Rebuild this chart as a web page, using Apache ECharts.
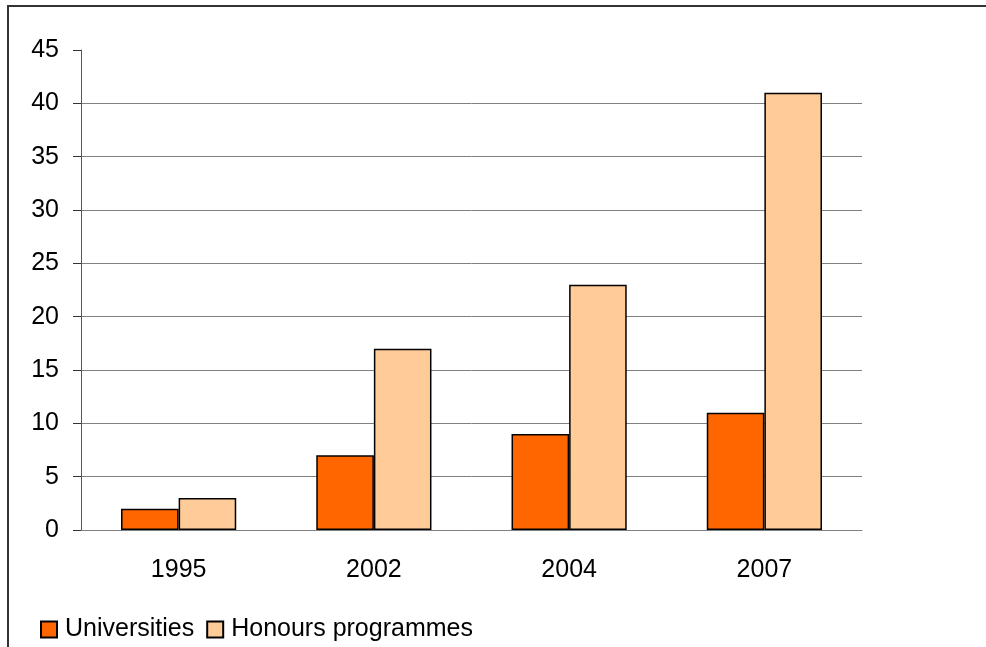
<!DOCTYPE html>
<html>
<head>
<meta charset="utf-8">
<script src="https://cdn.jsdelivr.net/npm/echarts@6/dist/echarts.min.js"></script>
<style>
  html, body { margin: 0; padding: 0; background: #fff; }
  #main { width: 986px; height: 647px; }
</style>
</head>
<body>
<div id="main"></div>
<script>
var years = ['1995', '2002', '2004', '2007'];
var universities = [2, 7, 9, 11];
var honours = [3, 17, 23, 41];

var myChart = echarts.init(document.getElementById('main'));
var option = {
    animation: false,
    textStyle: { fontFamily: 'Liberation Sans, Arial, sans-serif' },
    graphic: [{
        type: 'rect',
        shape: { x: 8, y: 6, width: 1000, height: 700 },
        style: { fill: 'none', stroke: '#333', lineWidth: 2 }
    }],
    legend: {
        left: 35,
        top: 612,
        itemWidth: 16,
        itemHeight: 16,
        itemGap: 12,
        icon: 'rect',
        textStyle: { fontSize: 25, color: '#000', padding: [0, 0, 0, 3] },
        data: ['Universities', 'Honours programmes']
    },
    grid: { left: 81, right: 124, top: 50, bottom: 117 },
    xAxis: {
        type: 'category',
        data: years,
        axisLine: { lineStyle: { color: '#808080', width: 1 } },
        axisTick: { length: 8, lineStyle: { color: '#333' } },
        axisLabel: { fontSize: 25, color: '#000', margin: 28 }
    },
    yAxis: {
        type: 'value',
        min: 0,
        max: 45,
        interval: 5,
        axisLine: { show: true, lineStyle: { color: '#555' } },
        axisTick: { show: true, inside: false, length: 8, lineStyle: { color: '#333' } },
        axisLabel: { fontSize: 25, color: '#000', margin: 22 },
        splitLine: { show: true, showMaxLine: false, lineStyle: { color: '#808080' } }
    },
    series: [{
        name: 'Universities',
        type: 'bar',
        data: universities,
        barGap: '0%',
        barCategoryGap: '41%',
        itemStyle: { color: '#FF6600', borderColor: '#000', borderWidth: 1.5 }
    }, {
        name: 'Honours programmes',
        type: 'bar',
        data: honours,
        itemStyle: { color: '#FFCC99', borderColor: '#000', borderWidth: 1.5 }
    }]
};
myChart.setOption(option);
</script>
</body>
</html>
